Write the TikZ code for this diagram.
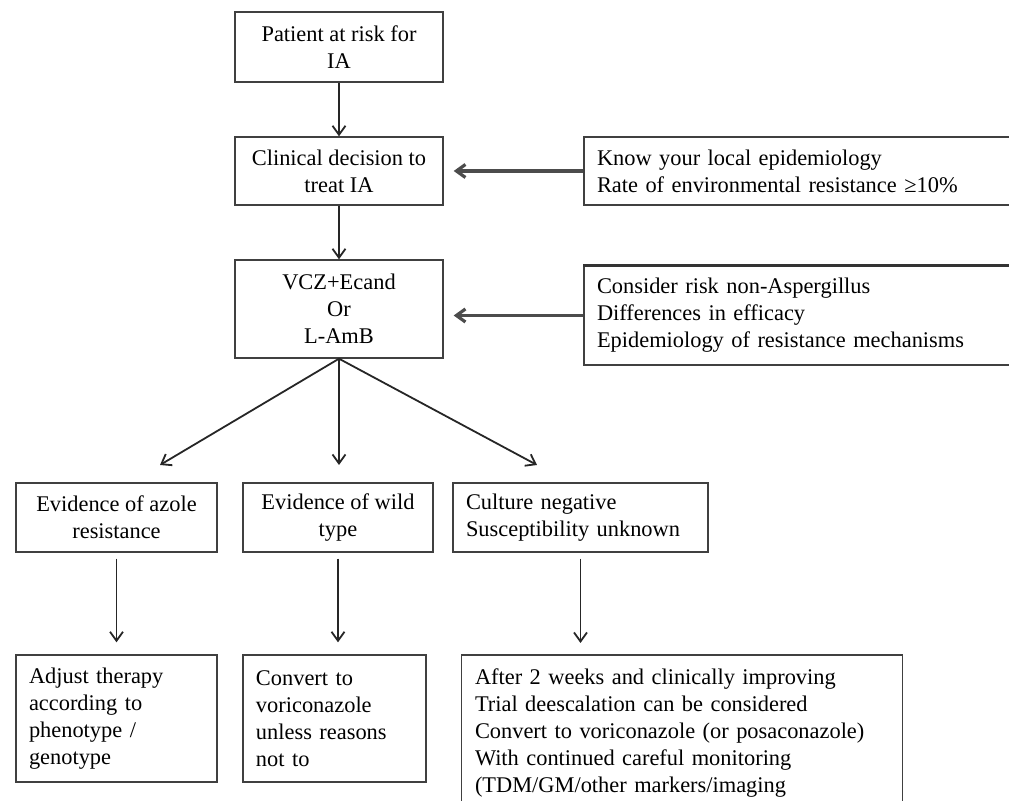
\documentclass[tikz,border=0pt]{standalone}
\usepackage{fontspec}
\setmainfont{Liberation Serif}
\usetikzlibrary{arrows.meta}

\begin{document}
\begin{tikzpicture}[x=0.5pt,y=-0.5pt,>={Straight Barb[length=4.5pt,width=6.5pt]},
  box/.style={draw=black!75,line width=0.7pt,align=center,font=\fontsize{11.2}{13.5}\selectfont},
  note/.style={box,align=left,inner xsep=6.5pt},
  flow/.style={->,line width=0.9pt,black!85},
  side/.style={->,line width=1.6pt,black!70,shorten >=5pt}]
  \useasboundingbox (0,0) rectangle (1009,801);
  \clip (0,0) rectangle (1009,801);
  % main column
  \node[box,minimum width=104pt,minimum height=35pt] (pat) at (339,47) {Patient at risk for\\IA};
  \node[box,minimum width=104pt,minimum height=34pt] (dec) at (339,171) {Clinical decision to\\treat IA};
  \node[box,minimum width=104pt,minimum height=49pt] (drug) at (339,309) {VCZ+Ecand\\Or\\L-AmB};
  % side notes
  \node[note,text width=217pt,minimum height=34pt] (epi) at (814,171)
    {Know your local epidemiology\\Rate of environmental resistance ≥10\%};
  \node[note,text width=217pt,minimum height=49.5pt] (risk) at (814,315.5)
    {Consider risk non-Aspergillus\\Differences in efficacy\\Epidemiology of resistance mechanisms};
  \draw[line width=1.3pt,black!80] (risk.north west) -- (risk.north east);
  % outcomes
  \node[box,minimum width=100.5pt,minimum height=34.5pt] (azole) at (116.5,517.5) {Evidence of azole\\resistance};
  \node[box,minimum width=95pt,minimum height=34.5pt] (wild) at (338,517.5) {Evidence of wild\\type};
  \node[note,text width=114.5pt,minimum height=34.5pt] (cult) at (580.5,517.5) {Culture negative\\Susceptibility unknown};
  % actions
  \node[note,text width=87.5pt,minimum height=63.5pt] (adj) at (116.5,718.5)
    {Adjust therapy\\according to\\phenotype /\\genotype};
  \node[note,text width=78.5pt,minimum height=63.5pt] (conv) at (334.5,718.5)
    {Convert to\\voriconazole\\unless reasons\\not to};
  \node[note,draw=none,text width=207pt,inner ysep=6.5pt,anchor=north] (after) at (682,655)
    {After 2 weeks and clinically improving\\Trial deescalation can be considered\\Convert to voriconazole (or posaconazole)\\With continued careful monitoring\\(TDM/GM/other markers/imaging};
  \draw[black!75,line width=0.7pt] (after.north west) rectangle ([yshift=-30pt]after.south east);
  % connectors
  \draw[flow] (pat) -- (dec);
  \draw[flow] (dec) -- (drug);
  \draw[side] (epi.west) -- (dec.east);
  \draw[side] (risk.west) -- (risk.west -| drug.east);
  \coordinate (ta) at (160,465);
  \coordinate (tb) at (339,465);
  \coordinate (tc) at (537,465);
  \foreach \t in {ta,tb,tc} \draw[flow] (drug.south) -- (\t);
  \foreach \a/\b in {azole/adj,wild/conv,cult/after}
    \draw[flow,shorten <=3pt,shorten >=6pt] (\a.south) -- (\a.south |- \b.north);
\end{tikzpicture}
\end{document}
